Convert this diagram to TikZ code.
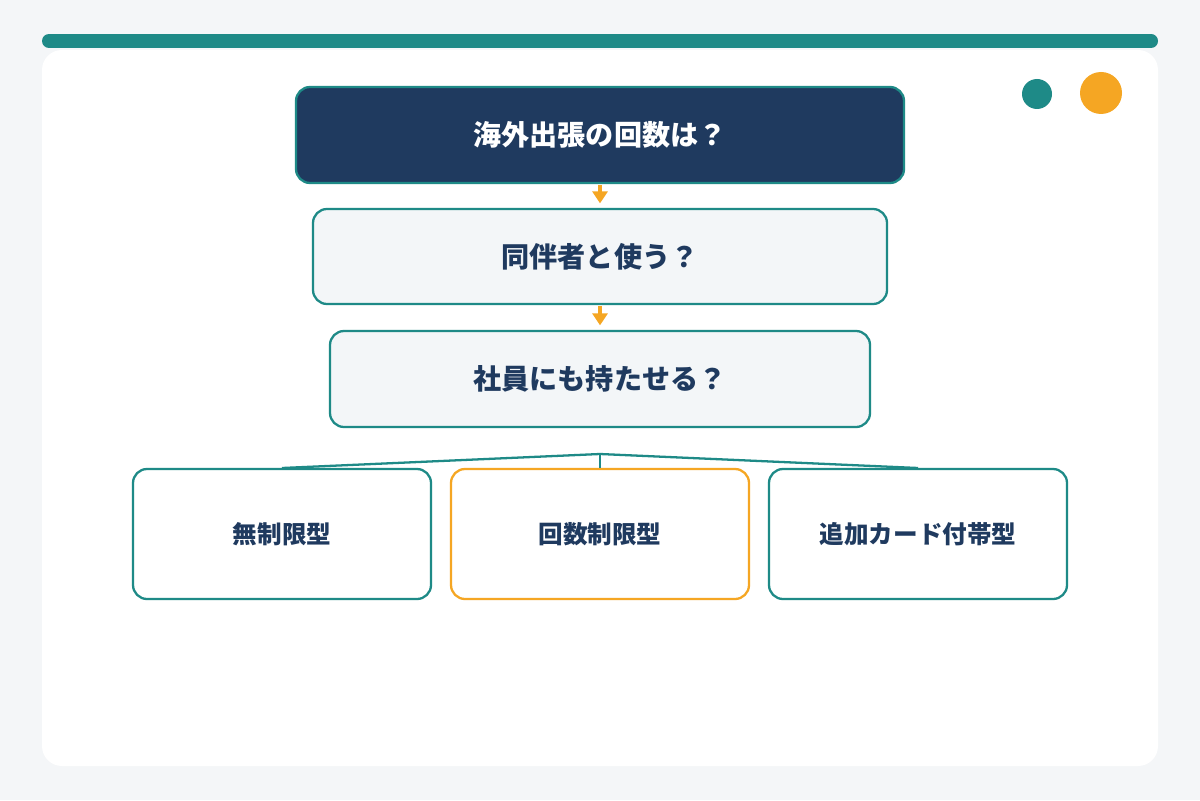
\documentclass[tikz,border=0pt]{standalone}
\usepackage{fontspec}
\usepackage{tikz}
\usetikzlibrary{arrows.meta}
\newfontfamily\cjk{Noto Sans CJK JP}
\definecolor{teal1}{HTML}{1E8A87}
\definecolor{navy1}{HTML}{1F3A5F}
\definecolor{amber1}{HTML}{F5A623}
\definecolor{page1}{HTML}{F4F6F8}
\definecolor{pale1}{HTML}{F3F6F8}
\tikzset{
  question/.style={draw=teal1, line width=1.3pt, rounded corners=0.28cm, fill=pale1,
    text=navy1, font=\cjk\bfseries\fontsize{16pt}{19pt}\selectfont, minimum height=1.9cm},
  plan/.style={draw=teal1, line width=1.3pt, rounded corners=0.28cm, fill=white,
    text=navy1, font=\cjk\bfseries\fontsize{14pt}{17pt}\selectfont,
    minimum width=5.96cm, minimum height=2.6cm},
  step arrow/.style={-{Triangle[width=0.3cm,length=0.24cm]}, draw=amber1, fill=amber1,
    line width=2.2pt, shorten <=0.02cm, shorten >=0.09cm},
  fork/.style={draw=teal1, line width=1.3pt}
}
\begin{document}
\begin{tikzpicture}
\useasboundingbox[fill=page1] (0,0) rectangle (24,-16);
\fill[white, rounded corners=0.4cm] (0.84,-1.0) rectangle (23.16,-15.32);
\draw[teal1, line width=0.28cm, line cap=round] (0.98,-0.82) -- (23.02,-0.82);
\fill[teal1] (20.74,-1.88) circle (0.3);
\fill[amber1] (22.02,-1.86) circle (0.42);
%
\node[question, fill=navy1, text=white, minimum width=12.16cm, minimum height=1.92cm](trips) at (12,-2.7) {海外出張の回数は？};
\node[question, minimum width=11.48cm](companion) at (12,-5.13) {同伴者と使う？};
\node[question, minimum width=10.8cm, minimum height=1.92cm](staff) at (12,-7.58) {社員にも持たせる？};
%
\node[plan](unlimited) at (5.64,-10.68) {無制限型};
\node[plan, draw=amber1](limited) at (12,-10.68) {回数制限型};
\node[plan](extra) at (18.36,-10.68) {追加カード付帯型};
%
\draw[step arrow](trips) -- (companion);
\draw[step arrow](companion) -- (staff);
%
\coordinate(split) at (12,-9.08);
\coordinate(splitleft) at (5.64,-9.36);
\coordinate(splitright) at (18.36,-9.36);
\draw[fork](split) -- (splitleft);
\draw[fork](split) -- (splitright);
\draw[fork](split) -- (limited.north);
\end{tikzpicture}
\end{document}
